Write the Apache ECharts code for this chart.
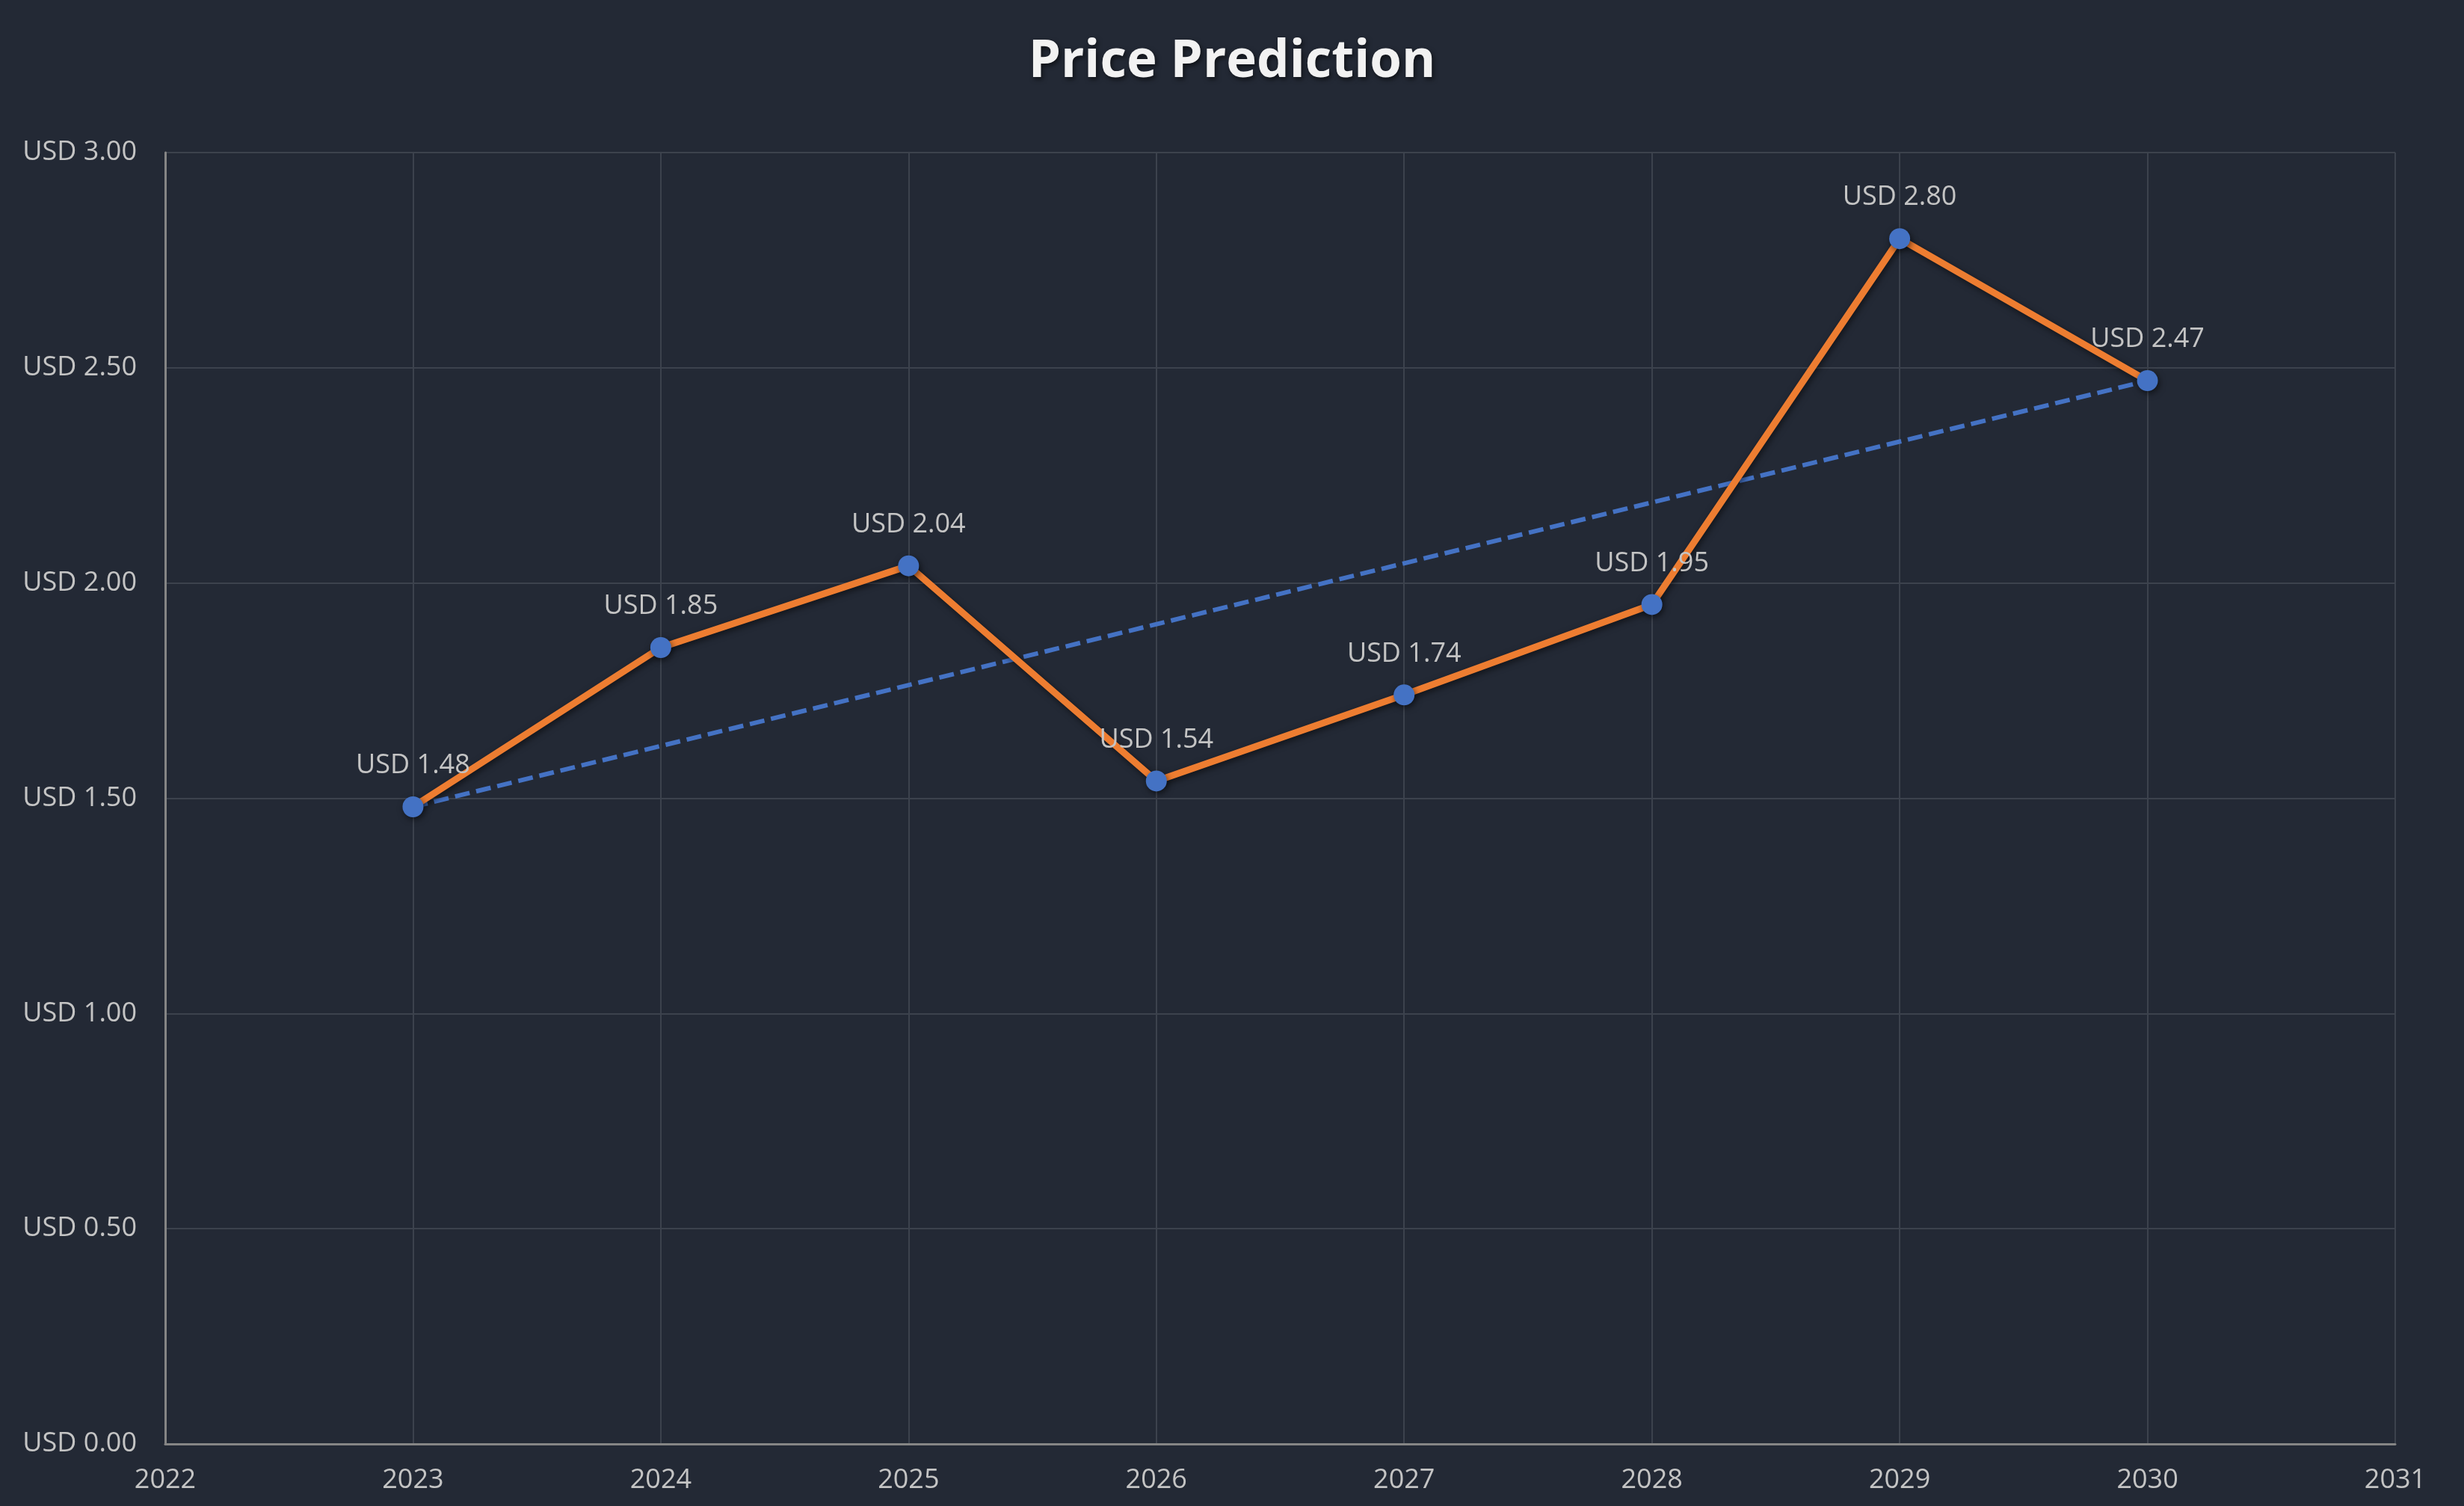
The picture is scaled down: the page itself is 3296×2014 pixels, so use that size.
<!DOCTYPE html>
<html>
<head>
<meta charset="utf-8">
<style>
  html, body { margin: 0; padding: 0; background: #232935; }
  #chart { width: 3296px; height: 2014px; }
</style>
<script src="https://cdn.jsdelivr.net/npm/echarts@6/dist/echarts.min.js"></script>
</head>
<body>
<div id="chart"></div>
<script>
const years = [2023, 2024, 2025, 2026, 2027, 2028, 2029, 2030];
const prices = [1.48, 1.85, 2.04, 1.54, 1.74, 1.95, 2.80, 2.47];
const xRange = [2022, 2031];
const yRange = [0, 3];
const titleText = 'Price Prediction';
const currency = 'USD';

const priceData = years.map((y, i) => [y, prices[i]]);
const trendData = [[years[0], prices[0]], [years[years.length - 1], prices[prices.length - 1]]];

const chart = echarts.init(document.getElementById('chart'));
const labelColor = '#c4c4c4';
const fontFamily = '"Open Sans", "Noto Sans", sans-serif';

chart.setOption({
  backgroundColor: '#232935',
  animation: false,
  title: {
    text: titleText,
    left: 'center',
    top: 44,
    textStyle: {
      color: '#f2f2f2',
      fontSize: 69,
      fontWeight: 'bold',
      fontFamily: fontFamily,
      textShadowColor: 'rgba(0,0,0,0.6)',
      textShadowBlur: 6,
      textShadowOffsetX: 2,
      textShadowOffsetY: 3
    }
  },
  grid: { left: 221, right: 92, top: 204, bottom: 83 },
  xAxis: {
    type: 'value',
    min: xRange[0],
    max: xRange[1],
    interval: 1,
    axisLine: { show: true, onZero: false, lineStyle: { color: '#858585', width: 3 } },
    axisTick: { show: false },
    axisLabel: {
      color: labelColor,
      fontSize: 36,
      fontFamily: fontFamily,
      margin: 31,
      formatter: v => String(v)
    },
    splitLine: { show: true, lineStyle: { color: '#3c424d', width: 2 } }
  },
  yAxis: {
    type: 'value',
    min: yRange[0],
    max: yRange[1],
    interval: 0.5,
    axisLine: { show: true, lineStyle: { color: '#858585', width: 3 } },
    axisTick: { show: false },
    axisLabel: {
      color: labelColor,
      fontSize: 36,
      fontFamily: fontFamily,
      margin: 38,
      formatter: v => currency + ' ' + v.toFixed(2)
    },
    splitLine: { show: true, lineStyle: { color: '#3c424d', width: 2 } }
  },
  series: [
    {
      type: 'line',
      data: trendData,
      symbol: 'none',
      z: 2,
      lineStyle: { color: '#4472C4', width: 6, type: [20, 9] }
    },
    {
      type: 'line',
      data: priceData,
      z: 3,
      symbol: 'circle',
      symbolSize: 28,
      itemStyle: {
        color: '#4472C4',
        shadowColor: 'rgba(0,0,0,0.55)',
        shadowBlur: 8,
        shadowOffsetX: 2,
        shadowOffsetY: 3
      },
      lineStyle: {
        color: '#ED7D31',
        width: 9,
        shadowColor: 'rgba(0,0,0,0.55)',
        shadowBlur: 8,
        shadowOffsetX: 2,
        shadowOffsetY: 3
      },
      label: {
        show: true,
        position: 'top',
        distance: 23,
        color: labelColor,
        fontSize: 36,
        fontFamily: fontFamily,
        formatter: p => currency + ' ' + p.value[1].toFixed(2)
      }
    }
  ]
});
</script>
</body>
</html>
